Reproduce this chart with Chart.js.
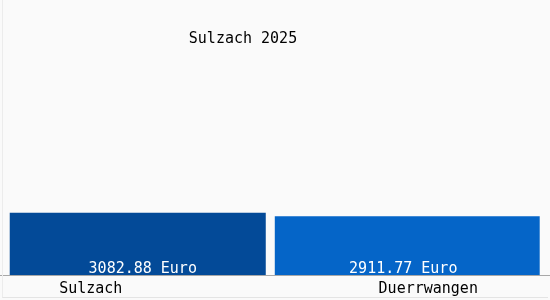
<!DOCTYPE html>
<html lang="de">
<head>
  <meta charset="UTF-8">
  <title>Sulzach 2025</title>
  <script src="https://cdn.jsdelivr.net/npm/chart.js"></script>
  <style>
    html, body { margin: 0; padding: 0; background: #fafafa; }
    .wrap { position: relative; width: 550px; height: 300px; }
    .frame { position: absolute; left: 2px; top: 0; width: 545px; height: 297px; border-left: 1px solid #ececec; border-bottom: 1px solid #e4e4e4; pointer-events: none; }
    .title { position: absolute; left: 0; top: 29px; width: 486px; text-align: center; font: 15px "DejaVu Sans Mono", monospace; color: #000; }
  </style>
</head>
<body>
  <div class="wrap">
    <canvas id="chart" width="550" height="300"></canvas>
    <div class="frame"></div>
    <div class="title" id="title"></div>
  </div>
  <script>
    // Daten
    const titel = 'Sulzach 2025';
    const orte = ['Sulzach', 'Duerrwangen'];
    const werte = [3082.88, 2911.77];
    const farben = ['#034a98', '#0565c8'];
    const einheit = ' Euro';

    // Balkenbreite je Ort und Versatz der Beschriftungen relativ zur Balkenmitte
    const breiten = [0.95, 0.983];
    const wertVersatz = [5, -4];
    const ortVersatz = [-47, 21];

    document.getElementById('title').textContent = titel;

    const beschriftung = {
      id: 'beschriftung',
      afterDatasetsDraw(chart) {
        const ctx = chart.ctx;
        const xScale = chart.scales.x;
        const yBase = chart.scales.y.getPixelForValue(0);
        ctx.save();
        // Achsenlinie ueber die ganze Breite
        ctx.strokeStyle = '#a8a8a8';
        ctx.lineWidth = 1;
        ctx.beginPath();
        ctx.moveTo(0, Math.round(yBase) + 0.5);
        ctx.lineTo(chart.width, Math.round(yBase) + 0.5);
        ctx.stroke();

        ctx.font = '15px "DejaVu Sans Mono", monospace';
        ctx.textAlign = 'center';
        ctx.textBaseline = 'alphabetic';
        orte.forEach((ort, i) => {
          const x = xScale.getPixelForValue(i);
          ctx.fillStyle = '#ffffff';
          ctx.fillText(werte[i].toFixed(2) + einheit, x + wertVersatz[i], yBase - 2);
          ctx.fillStyle = '#000000';
          ctx.fillText(ort, x + ortVersatz[i], yBase + 18);
        });
        ctx.restore();
      }
    };

    // ein Datensatz je Ort, damit jeder Balken seine eigene Breite hat
    const datasets = orte.map((ort, i) => ({
      label: ort,
      data: werte.map((v, j) => (j === i ? v : null)),
      backgroundColor: farben[i],
      borderWidth: 0,
      barPercentage: breiten[i],
      categoryPercentage: 1,
      grouped: false,
      skipNull: true
    }));

    new Chart(document.getElementById('chart'), {
      type: 'bar',
      data: { labels: orte, datasets: datasets },
      options: {
        responsive: false,
        animation: false,
        layout: { padding: { left: 3, right: 8, top: 25, bottom: 25 } },
        plugins: {
          legend: { display: false },
          tooltip: { enabled: false }
        },
        scales: {
          x: { display: false },
          y: { display: false, min: 0, max: 12400 }
        }
      },
      plugins: [beschriftung]
    });
  </script>
</body>
</html>
